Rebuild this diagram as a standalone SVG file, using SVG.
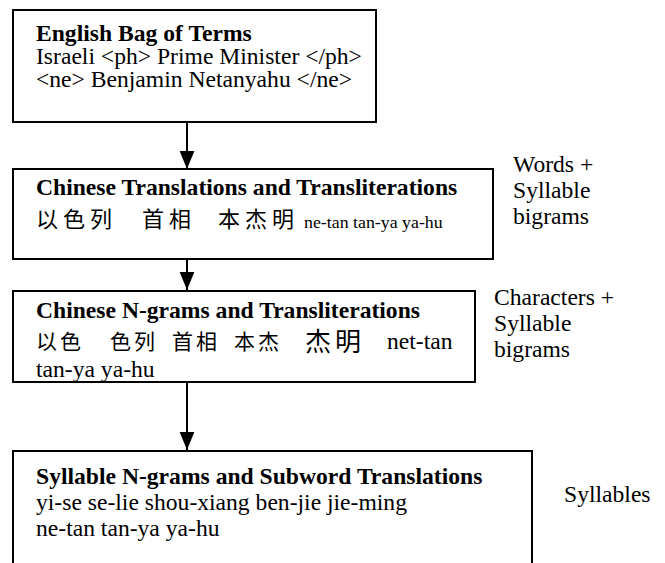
<svg xmlns="http://www.w3.org/2000/svg" width="665" height="563" viewBox="0 0 665 563">
<style>
.box{fill:#fff;stroke:#000;stroke-width:2}
.t{font-family:"Liberation Serif","Times New Roman",serif;font-size:22.5px;fill:#000}
.b{font-weight:bold}
.s{font-size:17px}
.cjk{font-family:"Noto Sans CJK SC","Noto Sans CJK JP",sans-serif;font-size:22px;letter-spacing:5px;fill:#000}
.c3{font-size:21px;letter-spacing:3px}
.big{font-size:26px;letter-spacing:4px}
.conn{stroke:#000;stroke-width:2;fill:none}
</style>
<defs>
<marker id="ah" markerUnits="userSpaceOnUse" markerWidth="18" markerHeight="22" refX="22" refY="9" orient="auto" viewBox="0 0 22 18">
<path d="M0,0 L22,9 L0,18 Z" fill="#000"/>
</marker>
</defs>
<rect width="665" height="563" fill="#fff"/>
<g id="connectors">
<line class="conn" x1="187" y1="122" x2="187" y2="169" marker-end="url(#ah)"/>
<line class="conn" x1="187" y1="259" x2="187" y2="290" marker-end="url(#ah)"/>
<line class="conn" x1="187" y1="382" x2="187" y2="450" marker-end="url(#ah)"/>
</g>
<g id="n1">
<rect class="box" x="13" y="10" width="363" height="112"/>
<text class="t b" transform="translate(36,41) scale(1.05,1)">English Bag of Terms</text>
<text class="t" transform="translate(36,64) scale(1.05,1)">Israeli &lt;ph&gt; Prime Minister &lt;/ph&gt;</text>
<text class="t" transform="translate(36,87) scale(1.05,1)">&lt;ne&gt; Benjamin Netanyahu &lt;/ne&gt;</text>
</g>
<g id="n2">
<rect class="box" x="13" y="169" width="480" height="90"/>
<text class="t b" transform="translate(36,195) scale(1.05,1)">Chinese Translations and Transliterations</text>
<text class="cjk" x="36" y="227">以色列</text>
<text class="cjk" x="142" y="227">首相</text>
<text class="cjk" x="218" y="227">本杰明</text>
<text class="t s" transform="translate(304,228) scale(1.05,1)">ne-tan tan-ya ya-hu</text>
</g>
<g id="n3">
<rect class="box" x="13" y="291" width="462" height="91"/>
<text class="t b" transform="translate(36,318) scale(1.05,1)">Chinese N-grams and Transliterations</text>
<text class="cjk c3" x="36" y="349">以色</text>
<text class="cjk c3" x="110" y="349">色列</text>
<text class="cjk c3" x="172" y="349">首相</text>
<text class="cjk c3" x="234" y="349">本杰</text>
<text class="cjk big" x="305" y="351">杰明</text>
<text class="t" transform="translate(387,349) scale(1.05,1)">net-tan</text>
<text class="t" transform="translate(36,377) scale(1.05,1)">tan-ya ya-hu</text>
</g>
<g id="n4">
<rect class="box" x="13" y="451" width="519" height="160"/>
<text class="t b" transform="translate(36,484) scale(1.05,1)">Syllable N-grams and Subword Translations</text>
<text class="t" transform="translate(36,510) scale(1.05,1)">yi-se se-lie shou-xiang ben-jie jie-ming</text>
<text class="t" transform="translate(36,536) scale(1.05,1)">ne-tan tan-ya ya-hu</text>
</g>
<g id="labels">
<text class="t" transform="translate(513,172) scale(1.05,1)">Words +</text>
<text class="t" transform="translate(513,198) scale(1.05,1)">Syllable</text>
<text class="t" transform="translate(513,224) scale(1.05,1)">bigrams</text>
<text class="t" transform="translate(494,305) scale(1.05,1)">Characters +</text>
<text class="t" transform="translate(494,331) scale(1.05,1)">Syllable</text>
<text class="t" transform="translate(494,357) scale(1.05,1)">bigrams</text>
<text class="t" transform="translate(564,502) scale(1.05,1)">Syllables</text>
</g>
</svg>
